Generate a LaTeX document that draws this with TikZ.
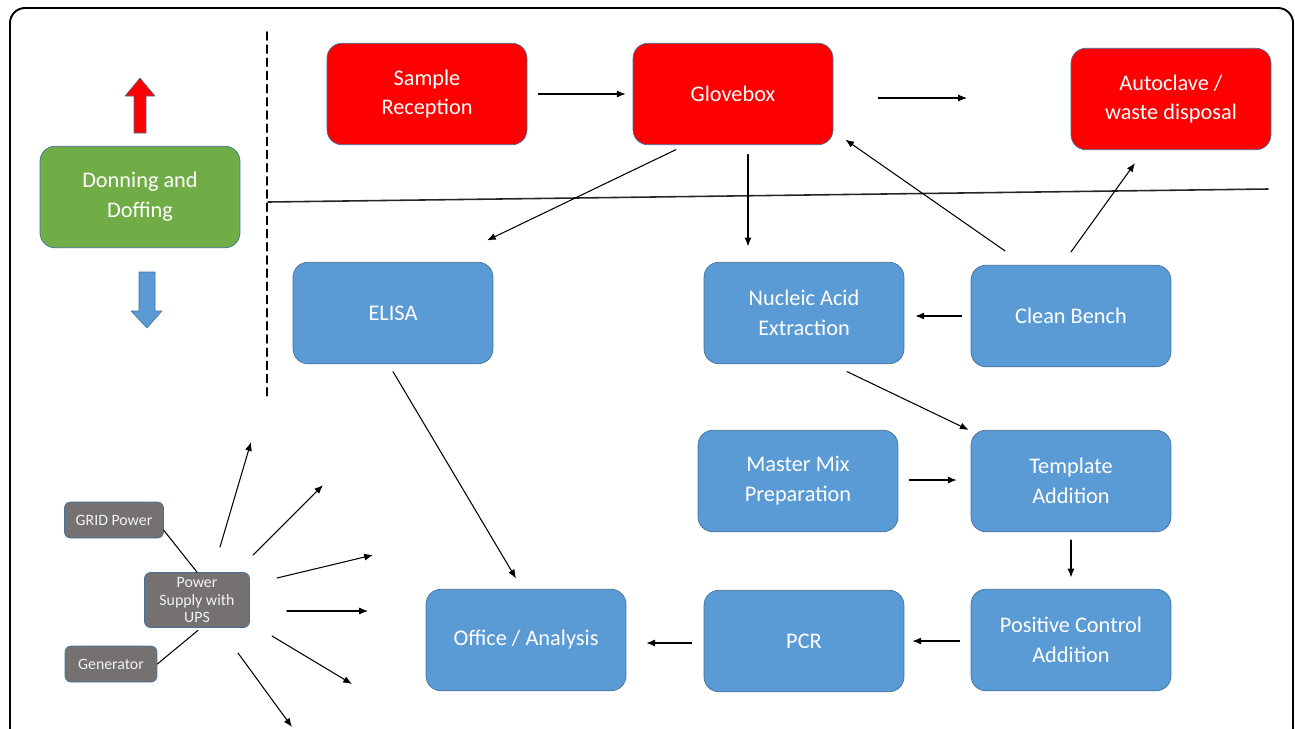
\documentclass[tikz,border=0pt]{standalone}
\usepackage{fontspec}
\setmainfont{Carlito}
\usetikzlibrary{calc,arrows.meta}
\definecolor{labred}{HTML}{FF0000}
\definecolor{labblue}{HTML}{5B9BD5}
\definecolor{labgreen}{HTML}{70AD47}
\definecolor{labgrey}{HTML}{767171}
\definecolor{edgeblue}{HTML}{41719C}
\begin{document}
\begin{tikzpicture}[x=0.02cm, y=-0.02cm, line join=round, line cap=round, >={Latex[length=5pt,width=4pt]}]
		\tikzset{box/.style={draw=edgeblue, line width=0.4pt, rounded corners=0.3cm, minimum width=4cm, minimum height=2.03cm, align=center, text=white, font=\fontsize{12.7}{17}\selectfont},
			redbox/.style={box, fill=labred},
			bluebox/.style={box, fill=labblue},
			greybox/.style={draw=edgeblue, line width=0.4pt, fill=labgrey, rounded corners=0.12cm, minimum height=0.72cm, align=center, text=white!95!black, font=\fontsize{9}{10}\selectfont},
			link/.style={->, line width=0.6pt}}
		\useasboundingbox (0,0) rectangle (1295,728);
		\draw[line width=1.1pt, rounded corners=0.3cm] (10,8) rectangle (1293,780);
		% rooms
		\node[redbox] (sample) at (427,94) {Sample\\Reception};
		\node[redbox] (glove) at (733,94) {Glovebox};
		\node[redbox] (auto) at (1171,99) {Autoclave /\\waste disposal};
		\node[box, fill=labgreen] (don) at (140,197) {Donning and\\Doffing};
		\node[bluebox] (elisa) at (393,313) {ELISA};
		\node[bluebox] (nae) at (804,313) {Nucleic Acid\\Extraction};
		\node[bluebox] (bench) at (1071,316) {Clean Bench};
		\node[bluebox] (mmix) at (798,481) {Master Mix\\Preparation};
		\node[bluebox] (tmpl) at (1071,481) {Template\\Addition};
		\node[bluebox] (pos) at (1071,640) {Positive Control\\Addition};
		\node[bluebox] (pcr) at (804,641) {PCR};
		\node[bluebox] (office) at (526,640) {Office / Analysis};
		% power
		\node[greybox, minimum width=1.98cm] (grid) at (114,520) {GRID Power};
		\node[greybox, minimum width=2.1cm, minimum height=1.1cm, inner sep=1pt] (ups) at (197,600) {Power\\Supply with\\UPS};
		\node[greybox, minimum width=1.84cm] (gen) at (111,664) {Generator};
		% zones
		\draw[dashed, line width=1pt, dash pattern=on 4.5pt off 3pt] (267,32)--(267,398);
		\draw[line width=0.9pt, black!85] (268,202)--(1268,189);
		\fill[labred, draw=edgeblue, line width=0.3pt] (134,133)--(134,96)--(125,96)--(140,78)--(155,96)--(146,96)--(146,133)--cycle;
		\fill[labblue, draw=edgeblue, line width=0.3pt] (139,272)--(155,272)--(155,311)--(162,311)--(147,328)--(131,311)--(139,311)--cycle;
		% flow
		\coordinate (out) at (967,98);
		\draw[link] ($(sample.east)+(11,0)$)--($(glove.west)+(-7,0)$);
		\draw[link] ($(glove.east)+(45,4)$)--(out);
		\draw[link] ($(glove.south)+(-57,4.5)$)--($(elisa.north)+(94,-21.5)$);
		\draw[link] ($(glove.south)+(15,9.5)$)--($(nae.north)+(-56,-15.5)$);
		\draw[link] ($(bench.north)+(-66,-14)$)--($(glove.south east)+(12,-5.5)$);
		\draw[link] ($(bench.north)+(0,-13)$)--($(auto.south)+(-36,13)$);
		\draw[link] ($(bench.west)+(-9,0)$)--($(nae.east)+(11,3)$);
		\draw[link] ($(nae.south)+(43,7.5)$)--($(tmpl.north west)+(-2,0)$);
		\draw[link] ($(mmix.east)+(11,-1)$)--($(tmpl.west)+(-14,-1)$);
		\draw[link] ($(tmpl.south)+(0,8)$)--($(pos.north)+(0,-11.5)$);
		\draw[link] ($(pos.west)+(-11,1)$)--($(pcr.east)+(8,0)$);
		\draw[link] ($(pcr.west)+(-12,2)$)--($(office.east)+(20,3)$);
		\draw[link] ($(elisa.south)+(0,7.5)$)--($(office.north)+(-10,-10.5)$);
		\draw[line width=0.6pt] ($(grid.south east)+(0,-8)$)--(ups.north);
		\draw[line width=0.6pt] (gen.east)--($(ups.south)+(1,2.5)$);
		\foreach \i/\ax/\ay/\bx/\by in {1/23/-53/54/-158,2/56/-45/126/-115,3/80/-22/176/-45,4/90/11/171/11,5/75/36/155/84,6/41/53/95/127}{
			\coordinate (feed\i) at ($(ups)+(\bx,\by)$);
			\draw[link] ($(ups)+(\ax,\ay)$)--(feed\i);}
\end{tikzpicture}
\end{document}
